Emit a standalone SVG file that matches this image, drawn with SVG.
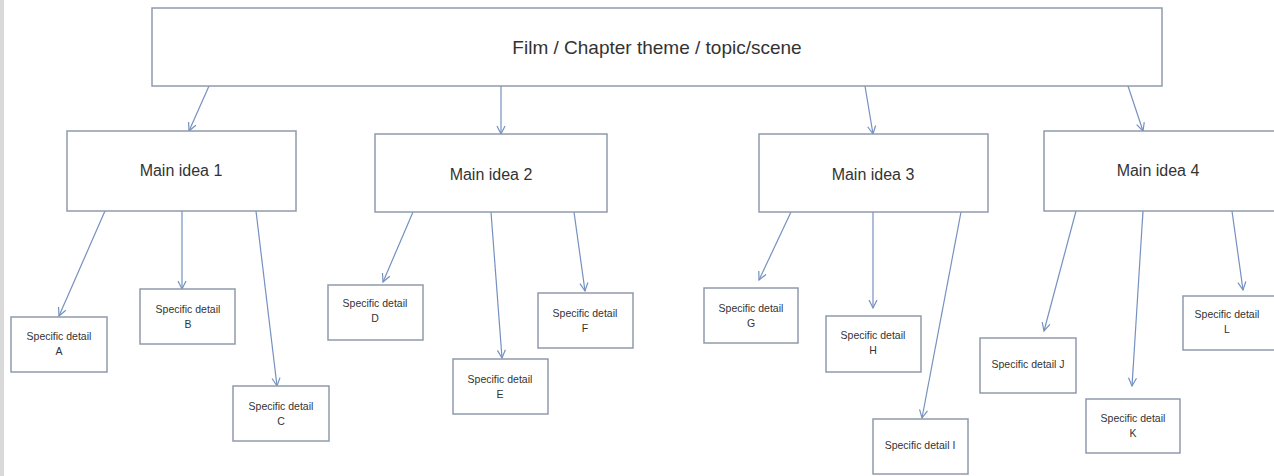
<svg xmlns="http://www.w3.org/2000/svg" width="1274" height="476" viewBox="0 0 1274 476">
<style>
.box{fill:#ffffff;stroke:#8f9baa;stroke-width:1.5}
.t{font-family:"Liberation Sans",Arial,sans-serif;fill:#333333;text-anchor:middle}
.title{font-size:19px}
.main{font-size:16px}
.det{font-size:10.5px}
.c{stroke:#7590c0;stroke-width:1.2;fill:none;marker-end:url(#ah)}
</style>
<defs>
<marker id="ah" markerUnits="userSpaceOnUse" markerWidth="12" markerHeight="12" refX="9" refY="5" orient="auto" viewBox="0 0 12 10">
<path d="M1,1 L9,5 L1,9" fill="none" stroke="#7590c0" stroke-width="1.2"/>
</marker>
</defs>
<rect x="0" y="0" width="1274" height="476" fill="#ffffff"/>
<rect x="0" y="0" width="4" height="476" fill="#d9d9d9"/>
<g id="connectors">
<line class="c" x1="209" y1="86" x2="189" y2="131"/>
<line class="c" x1="501" y1="86" x2="501" y2="134"/>
<line class="c" x1="865" y1="86" x2="873" y2="134"/>
<line class="c" x1="1128" y1="86" x2="1143" y2="131"/>
<line class="c" x1="105" y1="211" x2="59" y2="316"/>
<line class="c" x1="182" y1="211" x2="182" y2="289"/>
<line class="c" x1="256" y1="211" x2="277" y2="386"/>
<line class="c" x1="413" y1="212" x2="383" y2="282"/>
<line class="c" x1="491" y1="212" x2="502" y2="358"/>
<line class="c" x1="574" y1="212" x2="585" y2="291"/>
<line class="c" x1="791" y1="212" x2="759" y2="280"/>
<line class="c" x1="873" y1="212" x2="873" y2="308"/>
<line class="c" x1="961" y1="212" x2="922" y2="418"/>
<line class="c" x1="1076" y1="211" x2="1044" y2="331"/>
<line class="c" x1="1143" y1="211" x2="1132" y2="386"/>
<line class="c" x1="1232" y1="211" x2="1243" y2="290"/>
</g>
<g id="top"><rect class="box" x="152" y="8" width="1010" height="78"/><text class="t title" x="657" y="54">Film / Chapter theme / topic/scene</text></g>
<g id="main1"><rect class="box" x="67" y="131" width="229" height="80"/><text class="t main" x="181" y="176">Main idea 1</text></g>
<g id="main2"><rect class="box" x="375" y="134" width="232" height="78"/><text class="t main" x="491" y="180">Main idea 2</text></g>
<g id="main3"><rect class="box" x="759" y="134" width="229" height="78"/><text class="t main" x="873" y="180">Main idea 3</text></g>
<g id="main4"><rect class="box" x="1044" y="131" width="240" height="80"/><text class="t main" x="1158" y="176">Main idea 4</text></g>
<g id="detA"><rect class="box" x="11" y="317" width="96" height="55"/><text class="t det" x="59" y="340">Specific detail</text><text class="t det" x="59" y="355">A</text></g>
<g id="detB"><rect class="box" x="140" y="289" width="95" height="55"/><text class="t det" x="188" y="313">Specific detail</text><text class="t det" x="188" y="328">B</text></g>
<g id="detC"><rect class="box" x="233" y="386" width="96" height="55"/><text class="t det" x="281" y="410">Specific detail</text><text class="t det" x="281" y="425">C</text></g>
<g id="detD"><rect class="box" x="328" y="285" width="95" height="55"/><text class="t det" x="375" y="307">Specific detail</text><text class="t det" x="375" y="322">D</text></g>
<g id="detE"><rect class="box" x="453" y="359" width="95" height="55"/><text class="t det" x="500" y="383">Specific detail</text><text class="t det" x="500" y="398">E</text></g>
<g id="detF"><rect class="box" x="538" y="293" width="95" height="55"/><text class="t det" x="585" y="317">Specific detail</text><text class="t det" x="585" y="332">F</text></g>
<g id="detG"><rect class="box" x="704" y="288" width="94" height="55"/><text class="t det" x="751" y="312">Specific detail</text><text class="t det" x="751" y="327">G</text></g>
<g id="detH"><rect class="box" x="826" y="316" width="95" height="56"/><text class="t det" x="873" y="339">Specific detail</text><text class="t det" x="873" y="354">H</text></g>
<g id="detI"><rect class="box" x="873" y="419" width="95" height="55"/><text class="t det" x="920" y="449">Specific detail I</text></g>
<g id="detJ"><rect class="box" x="980" y="338" width="96" height="55"/><text class="t det" x="1028" y="368">Specific detail J</text></g>
<g id="detK"><rect class="box" x="1086" y="399" width="94" height="54"/><text class="t det" x="1133" y="422">Specific detail</text><text class="t det" x="1133" y="437">K</text></g>
<g id="detL"><rect class="box" x="1183" y="296" width="95" height="54"/><text class="t det" x="1227" y="318">Specific detail</text><text class="t det" x="1227" y="333">L</text></g>
</svg>
